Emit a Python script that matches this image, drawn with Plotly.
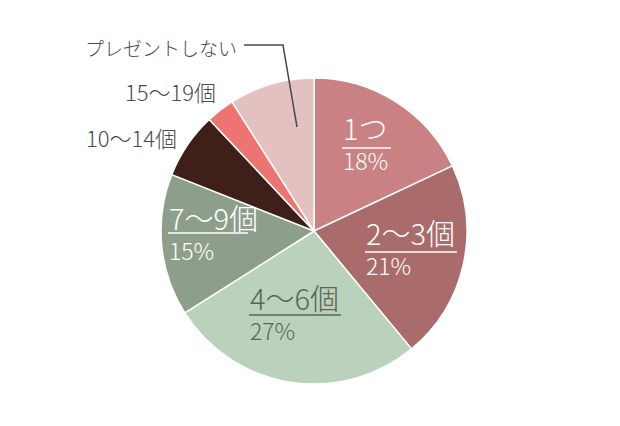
import plotly.graph_objects as go

# Share of respondents by number of gifts
categories = ["1つ", "2〜3個", "4〜6個", "7〜9個", "10〜14個", "15〜19個", "プレゼントしない"]
shares = [18, 21, 27, 15, 7, 3, 9]
colors = ["#C98184", "#A96C6A", "#BAD2BB", "#8D9F8A", "#3F1F19", "#EE7472", "#E4C1C1"]

W, H = 620, 426
FONT = "Noto Sans CJK JP"


def px(x):
    return x / W


def py(y):
    return 1 - y / H


cx, cy, r = 314, 231, 153

fig = go.Figure(
    go.Pie(
        labels=categories,
        values=shares,
        sort=False,
        direction="clockwise",
        rotation=0,
        textinfo="none",
        hoverinfo="label+percent",
        marker=dict(colors=colors, line=dict(color="white", width=1.5)),
        domain=dict(x=[px(cx - r), px(cx + r)], y=[py(cy + r), py(cy - r)]),
        showlegend=False,
    )
)

annotations = []
shapes = []

# Two-line labels inside the slices: (index, colour, left x, block centre y, underline y, underline end x)
inside = [
    (0, "#FFFFFF", 341, 142, 148, 391),
    (1, "#FFFFFF", 364, 246, 252, 457),
    (2, "#5B6459", 248, 311, 315, 341),
    (3, "#FFFFFF", 167, 231, 233, 248),
]
for idx, col, x0, yc, uy, x1 in inside:
    annotations.append(dict(
        x=px(x0), y=py(yc), xref="paper", yref="paper", xanchor="left", yanchor="middle",
        align="left",
        text=f"<span style='font-size:29px'>{categories[idx]}</span><br>{shares[idx]}%",
        showarrow=False,
        font=dict(family=FONT, size=23, color=col, weight=300),
    ))
    shapes.append(dict(type="line", xref="paper", yref="paper",
                       x0=px(x0 + 1), x1=px(x1), y0=py(uy), y1=py(uy),
                       line=dict(color=col, width=1.5)))

# Labels placed outside the pie: (index, right x, centre y, size)
outside = [
    (4, 179, 137, 22),
    (5, 218, 91, 22),
    (6, 239, 47, 19),
]
for idx, xr, yc, sz in outside:
    annotations.append(dict(
        x=px(xr), y=py(yc), xref="paper", yref="paper", xanchor="right", yanchor="middle",
        text=categories[idx], showarrow=False,
        font=dict(family=FONT, size=sz, color="#4A4A4A", weight=300),
    ))

# Leader line for the "no gift" slice
shapes.append(dict(type="path", xref="paper", yref="paper",
                   path=f"M {px(244)} {py(45)} L {px(283)} {py(45)} L {px(297)} {py(127)}",
                   line=dict(color="#4A4A4A", width=1.5)))

fig.update_layout(
    width=W, height=H,
    margin=dict(l=0, r=0, t=0, b=0),
    paper_bgcolor="white", plot_bgcolor="white",
    annotations=annotations, shapes=shapes,
)

fig.write_html("out.html")
